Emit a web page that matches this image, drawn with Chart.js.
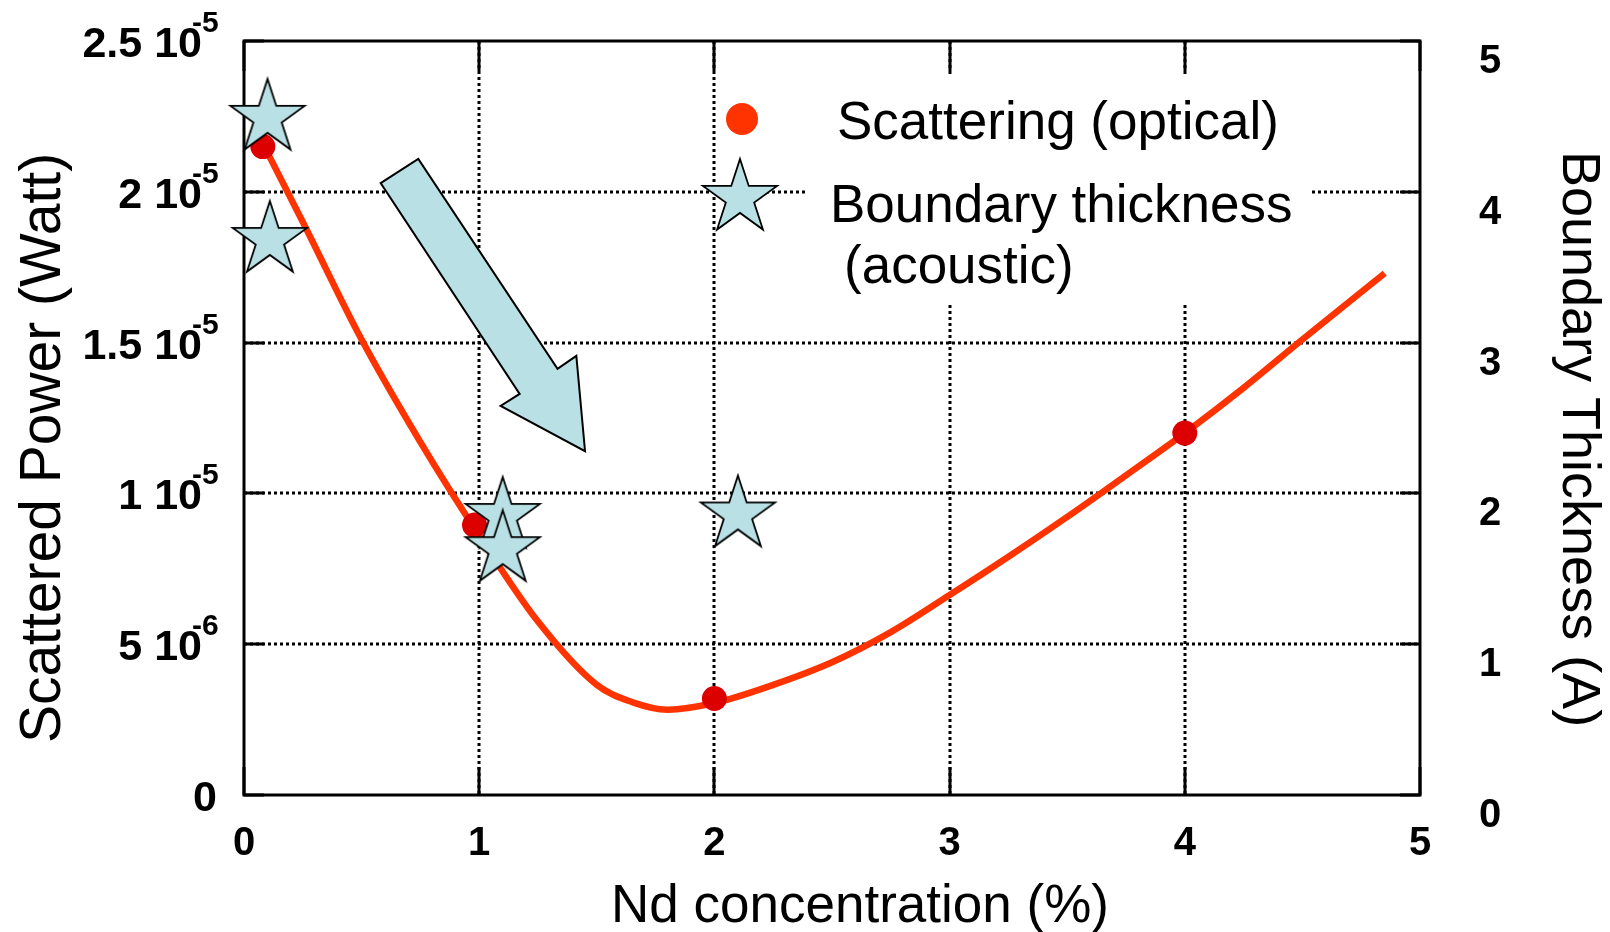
<!DOCTYPE html>
<html lang="en">
<head>
<meta charset="UTF-8" />
<title>Scattered power vs Nd concentration</title>
<script src="https://cdn.jsdelivr.net/npm/chart.js"></script>
<style>
  html, body { margin: 0; padding: 0; background: #fff; }
</style>
</head>
<body>
<canvas id="chart" width="1610" height="932"></canvas>
<script>
// fitted curve, x in %, y in Watt
const fitX = [0.08, 0.25, 0.5, 0.75, 1.0, 1.25, 1.5, 1.65, 1.8, 2.0, 2.25, 2.5, 2.75, 3.0, 3.25, 3.5, 3.75, 4.0, 4.25, 4.5, 4.85];
const fitY = [21.6e-6, 19.0e-6, 15.1e-6, 11.7e-6, 8.6e-6, 5.75e-6, 3.65e-6, 3.08e-6, 2.83e-6, 3.05e-6, 3.65e-6, 4.4e-6, 5.4e-6, 6.63e-6, 7.9e-6, 9.22e-6, 10.6e-6, 12.0e-6, 13.5e-6, 15.1e-6, 17.3e-6];

// measured scattering (optical)
const scatX = [0.08, 0.98, 2.0, 4.0];
const scatY = [21.5e-6, 8.95e-6, 3.2e-6, 12.0e-6];

// boundary thickness (acoustic), right axis
const boundX = [0.1, 0.11, 1.1, 1.1, 2.1];
const boundY = [4.49, 3.68, 1.85, 1.63, 1.86];

// ticks
const xTicks = [0, 1, 2, 3, 4, 5];
const leftVals = [0, 5e-6, 1e-5, 1.5e-5, 2e-5, 2.5e-5];
const leftMain = ['0', '5 10', '1 10', '1.5 10', '2 10', '2.5 10'];
const leftExp = ['', '-6', '-5', '-5', '-5', '-5'];
const rightVals = [0, 1, 2, 3, 4, 5];

// big arrow outline, in data units (x %, y Watt)
const arrowX = [0.581, 0.741, 1.333, 1.413, 1.450, 1.091, 1.172];
const arrowY = [20.29e-6, 21.09e-6, 14.13e-6, 14.56e-6, 11.40e-6, 12.90e-6, 13.30e-6];

const FONT = '"Liberation Sans", Arial, Helvetica, sans-serif';
const STAR_FILL = '#b9e0e4';

function makeStar(r) {
    const c = document.createElement('canvas');
    const s = Math.ceil(2 * r + 6);
    c.width = s; c.height = s;
    const g = c.getContext('2d');
    g.translate(s / 2, s / 2);
    g.beginPath();
    for (let i = 0; i < 10; i++) {
        const rad = i % 2 === 0 ? r : r * 0.382;
        const a = -Math.PI / 2 + i * Math.PI / 5;
        g.lineTo(rad * Math.cos(a), rad * Math.sin(a));
    }
    g.closePath();
    g.fillStyle = STAR_FILL;
    g.fill();
    g.lineWidth = 1.8;
    g.strokeStyle = '#000';
    g.stroke();
    return c;
}
const starImg = makeStar(39);

const decor = {
    id: 'decor',
    beforeDatasetsDraw(chart) {
        const ctx = chart.ctx;
        const a = chart.chartArea;
        const xs = chart.scales.x, ys = chart.scales.y;
        ctx.save();
        // dotted grid
        ctx.strokeStyle = '#000';
        ctx.lineWidth = 3;
        ctx.setLineDash([3, 3]);
        xTicks.slice(1, -1).forEach(v => {
            const px = Math.round(xs.getPixelForValue(v));
            ctx.beginPath(); ctx.moveTo(px, a.top); ctx.lineTo(px, a.bottom); ctx.stroke();
        });
        leftVals.slice(1, -1).forEach(v => {
            const py = Math.round(ys.getPixelForValue(v));
            ctx.beginPath(); ctx.moveTo(a.left, py); ctx.lineTo(a.right, py); ctx.stroke();
        });
        ctx.setLineDash([]);
        // inner tick marks
        xTicks.forEach(v => {
            const px = Math.round(xs.getPixelForValue(v));
            ctx.beginPath();
            ctx.moveTo(px, a.bottom); ctx.lineTo(px, a.bottom - 28);
            ctx.moveTo(px, a.top); ctx.lineTo(px, a.top + 30);
            ctx.stroke();
        });
        leftVals.forEach(v => {
            const py = Math.round(ys.getPixelForValue(v));
            ctx.beginPath();
            ctx.moveTo(a.left, py); ctx.lineTo(a.left + 20, py);
            ctx.moveTo(a.right, py); ctx.lineTo(a.right - 20, py);
            ctx.stroke();
        });
        // white panel behind legend text
        ctx.fillStyle = '#fff';
        ctx.fillRect(808, 74, 502, 231);
        // frame
        ctx.lineWidth = 3;
        ctx.strokeRect(a.left, a.top, a.right - a.left, a.bottom - a.top);
        ctx.restore();
    },
    afterDatasetsDraw(chart) {
        const ctx = chart.ctx;
        const xs = chart.scales.x, ys = chart.scales.y;
        ctx.save();
        // arrow
        ctx.beginPath();
        arrowX.forEach((v, i) => ctx.lineTo(xs.getPixelForValue(v), ys.getPixelForValue(arrowY[i])));
        ctx.closePath();
        ctx.fillStyle = STAR_FILL;
        ctx.fill();
        ctx.lineWidth = 2;
        ctx.strokeStyle = '#000';
        ctx.stroke();
        // legend
        ctx.beginPath();
        ctx.arc(742, 119, 16, 0, Math.PI * 2);
        ctx.fillStyle = '#ff3300';
        ctx.fill();
        ctx.drawImage(starImg, 740 - starImg.width / 2, 198 - starImg.height / 2);
        ctx.fillStyle = '#000';
        ctx.font = '53px ' + FONT;
        ctx.textAlign = 'left';
        ctx.textBaseline = 'alphabetic';
        ctx.fillText('Scattering (optical)', 837, 139);
        ctx.fillText('Boundary thickness', 830, 222);
        ctx.fillText('(acoustic)', 844, 283);
        ctx.restore();
    },
    afterDraw(chart) {
        const ctx = chart.ctx;
        const xs = chart.scales.x, ys = chart.scales.y, y2 = chart.scales.y2;
        ctx.save();
        ctx.fillStyle = '#000';
        ctx.textBaseline = 'alphabetic';
        // x tick labels
        ctx.font = 'bold 40px ' + FONT;
        ctx.textAlign = 'center';
        xTicks.forEach(v => ctx.fillText(String(v), xs.getPixelForValue(v), 855));
        // left tick labels with exponent
        leftVals.forEach((v, i) => {
            const py = ys.getPixelForValue(v);
            ctx.font = 'bold 43px ' + FONT;
            ctx.textAlign = 'right';
            if (leftExp[i]) {
                ctx.fillText(leftMain[i], 202, py + 16);
                ctx.font = 'bold 30px ' + FONT;
                ctx.textAlign = 'left';
                ctx.fillText(leftExp[i], 192, py - 9);
            } else {
                ctx.fillText(leftMain[i], 217, py + 16);
            }
        });
        // right tick labels
        ctx.font = 'bold 40px ' + FONT;
        ctx.textAlign = 'left';
        rightVals.forEach(v => ctx.fillText(String(v), 1479, y2.getPixelForValue(v) + 32));
        // axis titles
        ctx.textAlign = 'center';
        ctx.font = '53px ' + FONT;
        ctx.fillText('Nd concentration (%)', 860, 922);
        ctx.save();
        ctx.font = '57px ' + FONT;
        ctx.translate(60, 448);
        ctx.rotate(-Math.PI / 2);
        ctx.fillText('Scattered Power (Watt)', 0, 0);
        ctx.restore();
        ctx.save();
        ctx.font = '54px ' + FONT;
        ctx.translate(1563, 439);
        ctx.rotate(Math.PI / 2);
        ctx.fillText('Boundary Thickness (A)', 0, 0);
        ctx.restore();
        ctx.restore();
    }
};

const pts = (xs, ys) => xs.map((x, i) => ({ x: x, y: ys[i] }));

new Chart(document.getElementById('chart'), {
    type: 'scatter',
    data: {
        datasets: [
            {
                label: 'Boundary thickness (acoustic)',
                data: pts(boundX, boundY),
                yAxisID: 'y2',
                pointStyle: starImg,
                pointRadius: 39,
                clip: false,
                order: 0
            },
            {
                label: 'Scattering (optical)',
                data: pts(scatX, scatY),
                yAxisID: 'y',
                pointStyle: 'circle',
                pointRadius: 12.5,
                backgroundColor: '#dd0000',
                borderColor: '#dd0000',
                borderWidth: 0,
                order: 1
            },
            {
                label: 'fit',
                data: pts(fitX, fitY),
                yAxisID: 'y',
                showLine: true,
                pointRadius: 0,
                borderColor: '#ff3300',
                borderWidth: 6.5,
                cubicInterpolationMode: 'monotone',
                fill: false,
                order: 2
            }
        ]
    },
    options: {
        responsive: false,
        maintainAspectRatio: false,
        animation: false,
        devicePixelRatio: 1,
        layout: { padding: { top: 41, left: 0, right: 0, bottom: 0 } },
        plugins: { legend: { display: false }, tooltip: { enabled: false } },
        scales: {
            x: {
                type: 'linear', min: 0, max: 5,
                ticks: { display: false, stepSize: 1 },
                grid: { display: false }, border: { display: false },
                afterFit: s => { s.height = 137; }
            },
            y: {
                type: 'linear', position: 'left', min: 0, max: 2.5e-5,
                ticks: { display: false, stepSize: 5e-6 },
                grid: { display: false }, border: { display: false },
                afterFit: s => { s.width = 244; }
            },
            y2: {
                type: 'linear', position: 'right', min: 0, max: 5,
                ticks: { display: false, stepSize: 1 },
                grid: { display: false }, border: { display: false },
                afterFit: s => { s.width = 190; }
            }
        }
    },
    plugins: [decor]
});
</script>
</body>
</html>
